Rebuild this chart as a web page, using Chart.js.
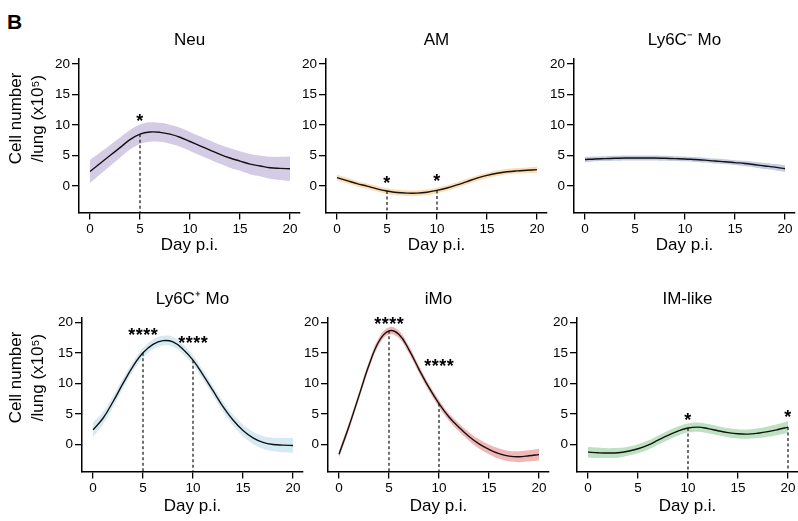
<!DOCTYPE html>
<html><head><meta charset="utf-8">
<script src="https://cdn.jsdelivr.net/npm/chart.js@4/dist/chart.umd.min.js"></script>
<style>
html,body{margin:0;padding:0;background:#fff;}
body{width:798px;height:521px;position:relative;overflow:hidden;}
.panel{position:absolute;}
.panel canvas{display:block;}
#lbl{position:absolute;left:7px;top:11px;font:bold 21px/1 "Liberation Sans",Arial,sans-serif;color:#000;}
</style></head><body>
<div id="lbl">B</div>
<script>
// ---------- data ----------
const days = [0,1,2,3,4,5,6,7,8,9,10,11,12,13,14,15,16,17,18,19,20];
const xTicks = [0,5,10,15,20];
const yTicks = [0,5,10,15,20];
const titles = ["Neu","AM","Ly6C\u207B Mo","Ly6C\u207A Mo","iMo","IM-like"];
const xTitle = "Day p.i.";
const yTitleLines = ["Cell number","/lung (x10\u2075)"];

const neuMean = [2.4,3.7,5.0,6.3,7.6,8.5,8.85,8.8,8.5,8.0,7.3,6.6,5.9,5.2,4.6,4.1,3.6,3.3,3.0,2.9,2.85];
const neuCI   = [1.9,1.8,1.7,1.65,1.6,1.6,1.6,1.55,1.55,1.55,1.55,1.55,1.55,1.55,1.6,1.6,1.65,1.7,1.8,1.9,2.0];
const neuSigDays = [5], neuSigLabels = ["*"], neuSigY = [11.5];

const amMean = [1.4,0.9,0.4,0.0,-0.45,-0.8,-1.05,-1.15,-1.15,-1.0,-0.7,-0.3,0.2,0.75,1.3,1.75,2.1,2.35,2.5,2.6,2.7];
const amCI   = [0.5,0.45,0.45,0.45,0.45,0.45,0.45,0.45,0.45,0.45,0.45,0.45,0.45,0.45,0.45,0.45,0.45,0.45,0.45,0.45,0.5];
const amSigDays = [5,10], amSigLabels = ["*","*"], amSigY = [1.25,1.65];

const lyNegMean = [4.35,4.45,4.5,4.55,4.6,4.6,4.6,4.6,4.55,4.5,4.45,4.35,4.25,4.1,4.0,3.85,3.7,3.5,3.3,3.1,2.85];
const lyNegCI   = [0.45,0.4,0.4,0.4,0.4,0.4,0.4,0.4,0.4,0.4,0.4,0.4,0.4,0.4,0.4,0.4,0.45,0.45,0.5,0.5,0.55];
const lyNegSigDays = [], lyNegSigLabels = [], lyNegSigY = [];

const lyPosMean = [2.4,4.3,7.0,10.0,12.8,15.0,16.4,17.0,16.8,15.6,13.8,11.4,8.8,6.2,4.0,2.3,1.1,0.35,0.0,-0.1,-0.15];
const lyPosCI   = [1.2,1.0,0.9,0.85,0.8,0.8,0.8,0.8,0.8,0.8,0.8,0.8,0.8,0.85,0.9,0.95,1.0,1.05,1.1,1.15,1.2];
const lyPosSigDays = [5,10], lyPosSigLabels = ["****","****"], lyPosSigY = [18.7,17.5];

const imoMean = [-1.6,3.0,8.0,13.0,16.9,18.6,18.0,15.5,12.3,9.3,6.7,4.5,2.8,1.3,0.1,-0.8,-1.5,-1.9,-2.0,-1.85,-1.65];
const imoCI   = [0.6,0.6,0.6,0.6,0.6,0.6,0.6,0.6,0.6,0.6,0.6,0.6,0.65,0.7,0.75,0.8,0.85,0.85,0.9,0.9,0.95];
const imoSigDays = [5,10], imoSigLabels = ["****","****"], imoSigY = [20.6,13.65];

const imlMean = [-1.25,-1.35,-1.4,-1.35,-1.1,-0.7,-0.1,0.7,1.5,2.2,2.7,2.85,2.6,2.25,1.95,1.75,1.7,1.85,2.1,2.45,2.85];
const imlCI   = [0.9,0.85,0.8,0.8,0.75,0.75,0.75,0.75,0.75,0.75,0.75,0.75,0.75,0.75,0.75,0.75,0.75,0.8,0.85,0.9,0.95];
const imlSigDays = [10,20], imlSigLabels = ["*","*"], imlSigY = [4.75,5.3];

// ---------- layout / style ----------
const FAM = '"Liberation Sans", Arial, Helvetica, sans-serif';
const panels = [
  {title:titles[0], mean:neuMean,   ci:neuCI,   band:'rgb(212,203,229)', sd:neuSigDays,   sl:neuSigLabels,   sy:neuSigY,   areaLeft:79,  cLeft:0,   top:20,  ymin:-4.3, ymax:20.9, yT:true,  tb:4},
  {title:titles[1], mean:amMean,    ci:amCI,    band:'rgb(252,221,179)', sd:amSigDays,    sl:amSigLabels,    sy:amSigY,    areaLeft:326, cLeft:286, top:20,  ymin:-4.3, ymax:20.9, yT:false, tb:4},
  {title:titles[2], mean:lyNegMean, ci:lyNegCI, band:'rgb(197,203,225)', sd:lyNegSigDays, sl:lyNegSigLabels, sy:lyNegSigY, areaLeft:574, cLeft:534, top:20,  ymin:-4.3, ymax:20.9, yT:false, tb:4},
  {title:titles[3], mean:lyPosMean, ci:lyPosCI, band:'rgb(214,234,243)', sd:lyPosSigDays, sl:lyPosSigLabels, sy:lyPosSigY, areaLeft:82,  cLeft:3,   top:279, ymin:-4.4, ymax:20.8, yT:true,  tb:2},
  {title:titles[4], mean:imoMean,   ci:imoCI,   band:'rgb(243,182,182)', sd:imoSigDays,   sl:imoSigLabels,   sy:imoSigY,   areaLeft:328, cLeft:288, top:279, ymin:-4.4, ymax:20.8, yT:false, tb:2},
  {title:titles[5], mean:imlMean,   ci:imlCI,   band:'rgb(190,226,193)', sd:imlSigDays,   sl:imlSigLabels,   sy:imlSigY,   areaLeft:577, cLeft:537, top:279, ymin:-4.4, ymax:20.8, yT:false, tb:2}
];

const sigPlugin = {
  id:'sig',
  afterDatasetsDraw(chart, args, o){
    if(!o || !o.days) return;
    const {ctx} = chart; const xs = chart.scales.x, ys = chart.scales.y;
    ctx.save();
    ctx.fillStyle = '#000'; ctx.textAlign = 'center'; ctx.textBaseline = 'alphabetic';
    ctx.font = 'bold 18px ' + FAM;
    try { ctx.letterSpacing = '0.5px'; } catch(e){}
    o.days.forEach((d,i)=>{
      const txt = o.labels[i];
      const px = xs.getPixelForValue(d) + (txt.length>1 ? 0.25 : 0);
      ctx.fillText(txt, px, ys.getPixelForValue(o.ys[i]) + 11);
    });
    ctx.restore();
  }
};
const yTitlePlugin = {
  id:'ytitle',
  afterDraw(chart, args, o){
    if(!o || !o.show) return;
    const {ctx, chartArea} = chart;
    const cy = chartArea.top + 0.39*(chartArea.bottom - chartArea.top);
    ctx.save();
    ctx.fillStyle = '#000'; ctx.textAlign = 'center'; ctx.textBaseline = 'middle';
    ctx.font = '17px ' + FAM;
    const xs = [16.5 - o.cLeft, 38.5 - o.cLeft];
    o.lines.forEach((t,i)=>{
      ctx.save(); ctx.translate(xs[i], cy); ctx.rotate(-Math.PI/2); ctx.fillText(t, 0, 0); ctx.restore();
    });
    ctx.restore();
  }
};

panels.forEach((p, k)=>{
  const yW = p.areaLeft - p.cLeft;
  const W = yW + 221 + 4, H = 240;
  const div = document.createElement('div');
  div.className = 'panel';
  div.style.left = p.cLeft + 'px'; div.style.top = p.top + 'px';
  div.style.width = W + 'px'; div.style.height = H + 'px';
  const cv = document.createElement('canvas');
  cv.width = W; cv.height = H;
  div.appendChild(cv); document.body.appendChild(div);

  const lineData  = days.map((d,i)=>({x:d, y:p.mean[i]}));
  const upperData = days.map((d,i)=>({x:d, y:p.mean[i] + p.ci[i]}));
  const lowerData = days.map((d,i)=>({x:d, y:p.mean[i] - p.ci[i]}));

  const datasets = [
    {data:lineData, borderColor:'#111', borderWidth:1.4, pointRadius:0, tension:0.4, fill:false}
  ];
  p.sd.forEach(d=>{
    datasets.push({data:[{x:d, y:p.mean[days.indexOf(d)]},{x:d, y:p.ymin}], borderColor:'#222', borderWidth:1.3, borderDash:[3,2.5], pointRadius:0, tension:0, fill:false});
  });
  datasets.push({data:upperData, borderWidth:0, borderColor:'rgba(0,0,0,0)', pointRadius:0, tension:0.4, fill:false});
  datasets.push({data:lowerData, borderWidth:0, borderColor:'rgba(0,0,0,0)', pointRadius:0, tension:0.4, fill:'-1', backgroundColor:p.band});

  const axisCommon = {
    type:'linear',
    grid:{display:true, drawOnChartArea:false, drawTicks:true, tickLength:7, color:'#000', lineWidth:1.3},
    border:{display:true, color:'#000', width:1.5},
  };
  new Chart(cv, {
    type:'line',
    data:{datasets},
    plugins:[sigPlugin, yTitlePlugin],
    options:{
      responsive:false, animation:false, devicePixelRatio:1,
      layout:{padding:{left:0, right:4, top:0, bottom:0}},
      plugins:{
        legend:{display:false}, tooltip:{enabled:false},
        title:{display:true, text:p.title, fullSize:false, color:'#000', font:{size:17, family:FAM, weight:400}, padding:{top:10, bottom:8}},
        sig:{days:p.sd, labels:p.sl, ys:p.sy},
        ytitle:{show:p.yT, lines:yTitleLines, cLeft:p.cLeft}
      },
      scales:{
        x:Object.assign({}, axisCommon, {
          min:-1.1, max:21,
          afterBuildTicks:s=>{ s.ticks = xTicks.map(v=>({value:v})); },
          afterFit:s=>{ s.height = 47.6; },
          ticks:{color:'#000', font:{size:13.5, family:FAM}, padding:2, maxRotation:0, autoSkip:false},
          title:{display:true, text:xTitle, color:'#000', font:{size:17, family:FAM}, padding:{top:0, bottom:p.tb}}
        }),
        y:Object.assign({}, axisCommon, {
          min:p.ymin, max:p.ymax,
          afterBuildTicks:s=>{ s.ticks = yTicks.map(v=>({value:v})); },
          afterFit:s=>{ s.width = yW; },
          ticks:{color:'#000', font:{size:13.5, family:FAM}, padding:2, autoSkip:false},
          title:{display:false}
        })
      }
    }
  });
});
</script>
</body></html>
